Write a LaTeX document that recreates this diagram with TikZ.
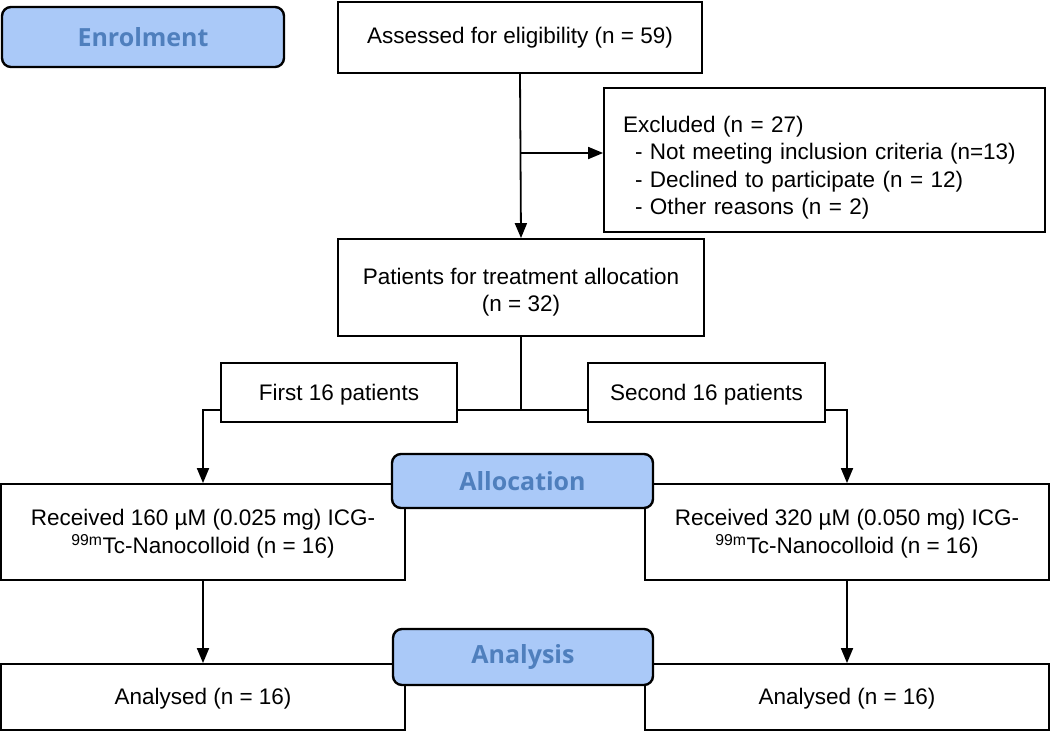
\documentclass[tikz,border=0pt]{standalone}
\usepackage{fontspec}
\setmainfont{Liberation Sans}
\newfontfamily\stagefont{Open Sans}
\usetikzlibrary{arrows.meta,calc,positioning}
\definecolor{stagefill}{RGB}{170,201,248}
\definecolor{stagetext}{RGB}{79,127,189}

\begin{document}
\begin{tikzpicture}[x=1pt, y=-1pt,
  box/.style={draw, line width=1.8pt, fill=white, inner sep=0pt, align=center,
    font=\fontsize{22.5}{27.5}\selectfont},
  stagebox/.style={draw, line width=2.4pt, rounded corners=9pt, fill=stagefill,
    text=stagetext, inner sep=0pt, minimum height=55pt,
    font=\stagefont\bfseries\fontsize{25}{28}\selectfont},
  arr/.style={-{Triangle[length=15pt, width=12pt]}, line width=1.8pt},
  link/.style={line width=1.8pt}]
  \def\armw{404pt}
  \def\armh{96pt}

  % Fixed bounding box
  \path[use as bounding box] (0,0) rectangle (1050,732);

  % Main column
  \node[box, minimum width=364pt, minimum height=71pt] (assess) at (520,37.5) {Assessed for eligibility (n = 59)};
  \node[box, minimum width=441pt, minimum height=144pt, text width=403pt, inner xsep=19pt, align=left] (excl) at (824.5,160)
    {\rule{0pt}{32pt}Excluded (n = 27)\\
     \hspace*{12pt}- Not meeting inclusion criteria (n=13)\\
     \hspace*{12pt}- Declined to participate (n = 12)\\
     \hspace*{12pt}- Other reasons (n = 2)};
  \node[box, minimum width=366pt, minimum height=97pt] (patients) at (521,287.5) {\rule{0pt}{26pt}Patients for treatment allocation\\(n = 32)};

  % Two groups
  \node[box, minimum width=236pt, minimum height=59pt] (first) at (339,392.5) {\rule{0pt}{20pt}First 16 patients};
  \node[box, minimum width=237pt, minimum height=59pt] (second) at (706.5,392.5) {\rule{0pt}{20pt}Second 16 patients};

  % Dose arms
  \node[box, minimum width=\armw, minimum height=\armh] (recA) at (203,532) {\rule{0pt}{20pt}Received 160 µM (0.025 mg) ICG-\\\textsuperscript{99m}Tc-Nanocolloid (n = 16)};
  \node[box, minimum width=\armw, minimum height=\armh] (recB) at (847,532) {\rule{0pt}{20pt}Received 320 µM (0.050 mg) ICG-\\\textsuperscript{99m}Tc-Nanocolloid (n = 16)};
  \node[box, minimum width=\armw, minimum height=66pt] (anaA) at (203,697) {\rule{0pt}{20pt}Analysed (n = 16)};
  \node[box, minimum width=\armw, minimum height=66pt] (anaB) at (847,697) {\rule{0pt}{20pt}Analysed (n = 16)};

  % Stage labels
  \node[stagebox, minimum width=282pt, minimum height=60pt] (enrol) at (143,37) {Enrolment};
  \node[stagebox, minimum width=261pt, minimum height=54pt] (alloc) at (522.5,481) {Allocation};
  \node[stagebox, minimum width=260pt, minimum height=56pt] (analysis) at (523,657) {Analysis};

  % Connectors
  \coordinate (exclsplit) at (521,153);
  \coordinate (fork) at (521,410);
  \draw[arr] (assess.south) -- (patients.north);
  \draw[arr] (exclsplit) -- (exclsplit -| excl.west);
  \draw[link] (patients.south) -- (fork);
  \draw[link] (fork -| first.east) -- (fork -| second.west);
  \draw[arr] (fork -| first.west) -| (recA.north);
  \draw[arr] (fork -| second.east) -| (recB.north);
  \draw[arr] (recA.south) -- (anaA.north);
  \draw[arr] (recB.south) -- (anaB.north);

\end{tikzpicture}
\end{document}
